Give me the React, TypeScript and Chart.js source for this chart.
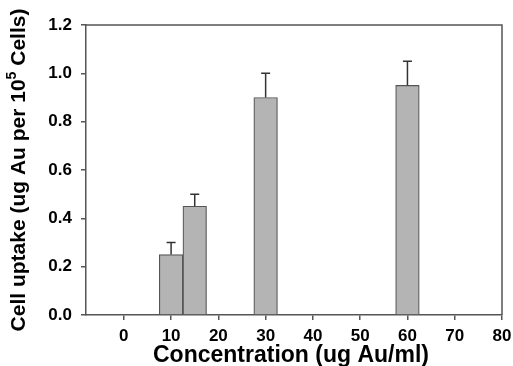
import React, { useEffect, useRef } from "react";
import { Chart, registerables } from "chart.js";

Chart.register(...registerables);

const concentrations = [10, 15, 30, 60];
const uptake = [0.25, 0.45, 0.9, 0.95];
const uptakeErr = [0.05, 0.05, 0.1, 0.1];
const xTicks = [0, 10, 20, 30, 40, 50, 60, 70, 80];
const yTicks = [0, 0.2, 0.4, 0.6, 0.8, 1.0, 1.2];

const LINE = "#555555";
const FONT = "'Liberation Sans', Arial, sans-serif";

const framePlugin = {
  id: "frameAndTitles",
  afterDatasetsDraw(chart: any) {
    const { ctx, chartArea, scales } = chart;
    const xs = scales.x;
    const ys = scales.y;
    ctx.save();
    // error bars
    ctx.strokeStyle = "#333333";
    ctx.lineWidth = 1.5;
    concentrations.forEach((c, i) => {
      const px = xs.getPixelForValue(c);
      const y0 = ys.getPixelForValue(uptake[i]);
      const y1 = ys.getPixelForValue(uptake[i] + uptakeErr[i]);
      ctx.beginPath();
      ctx.moveTo(px, y0);
      ctx.lineTo(px, y1);
      ctx.moveTo(px - 4.5, y1);
      ctx.lineTo(px + 4.5, y1);
      ctx.stroke();
    });
    // frame top/right
    ctx.strokeStyle = LINE;
    ctx.lineWidth = 1.5;
    ctx.beginPath();
    ctx.moveTo(chartArea.left, chartArea.top);
    ctx.lineTo(chartArea.right, chartArea.top);
    ctx.lineTo(chartArea.right, chartArea.bottom);
    ctx.stroke();
    // x title
    ctx.fillStyle = "#000";
    ctx.font = `bold 23px ${FONT}`;
    ctx.textAlign = "center";
    ctx.textBaseline = "alphabetic";
    ctx.fillText("Concentration (ug Au/ml)", 291, 362);
    // y title with superscript
    ctx.translate(25, 170);
    ctx.rotate(-Math.PI / 2);
    const big = `bold 21px ${FONT}`;
    const small = `bold 14px ${FONT}`;
    const p1 = "Cell uptake (ug Au per 10";
    const p2 = "5";
    const p3 = " Cells)";
    ctx.font = big;
    const w1 = ctx.measureText(p1).width;
    const w3 = ctx.measureText(p3).width;
    ctx.font = small;
    const w2 = ctx.measureText(p2).width;
    const total = w1 + w2 + w3;
    let x = -total / 2;
    ctx.textAlign = "left";
    ctx.font = big;
    ctx.fillText(p1, x, 0);
    x += w1;
    ctx.font = small;
    ctx.fillText(p2, x, -9);
    x += w2;
    ctx.font = big;
    ctx.fillText(p3, x, 0);
    ctx.restore();
  },
};

export default function App() {
  const ref = useRef<HTMLCanvasElement>(null);
  useEffect(() => {
    const chart = new Chart(ref.current!, {
      type: "bar",
      data: {
        datasets: [
          {
            data: concentrations.map((c, i) => ({ x: c, y: uptake[i] })),
            backgroundColor: "#b4b4b4",
            borderColor: LINE,
            borderWidth: 1.2,
            barThickness: 23.6,
          },
        ],
      },
      options: {
        animation: false,
        responsive: false,
        maintainAspectRatio: false,
        layout: { padding: { left: 0, top: 25, right: 11, bottom: 0 } },
        plugins: { legend: { display: false }, tooltip: { enabled: false } },
        scales: {
          x: {
            type: "linear",
            min: -8,
            max: 80,
            offset: false,
            afterBuildTicks: (s: any) => {
              s.ticks = xTicks.map((v) => ({ value: v }));
            },
            afterFit: (s: any) => {
              s.height = 51;
              s.paddingLeft = 0;
              s.paddingRight = 0;
            },
            grid: {
              offset: false,
              drawOnChartArea: false,
              drawTicks: true,
              tickLength: 5,
              color: LINE,
              lineWidth: 1.5,
            },
            border: { display: true, color: LINE, width: 1.5 },
            ticks: {
              color: "#000",
              font: { family: FONT, size: 17, weight: "bold" },
              padding: 6,
              maxRotation: 0,
              autoSkip: false,
            },
          },
          y: {
            type: "linear",
            min: 0,
            max: 1.2,
            afterBuildTicks: (s: any) => {
              s.ticks = yTicks.map((v) => ({ value: v }));
            },
            afterFit: (s: any) => {
              s.width = 86;
              s.paddingTop = 0;
              s.paddingBottom = 0;
            },
            grid: {
              drawOnChartArea: false,
              drawTicks: true,
              tickLength: 5,
              color: LINE,
              lineWidth: 1.5,
            },
            border: { display: true, color: LINE, width: 1.5 },
            ticks: {
              color: "#000",
              font: { family: FONT, size: 17, weight: "bold" },
              padding: 9,
              callback: (v: any) => Number(v).toFixed(1),
            },
          },
        },
      },
      plugins: [framePlugin],
    });
    return () => chart.destroy();
  }, []);
  return (
    <div style={{ position: "fixed", left: 0, top: 0, width: 513, height: 366, background: "#fff" }}>
      <canvas ref={ref} width={513} height={366} />
    </div>
  );
}
